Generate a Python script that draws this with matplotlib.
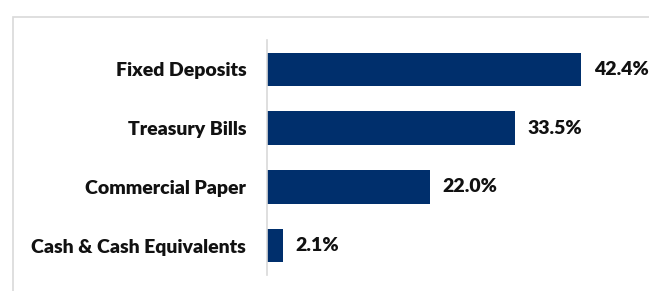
import matplotlib.pyplot as plt
from matplotlib.patches import Rectangle

# data
categories = ['Fixed Deposits', 'Treasury Bills', 'Commercial Paper', 'Cash & Cash Equivalents']
shares = [42.4, 33.5, 22.0, 2.1]
value_labels = ['42.4%', '33.5%', '22.0%', '2.1%']

W, H = 649, 291
bar_color = '#002F6C'
font = ['Lato', 'DejaVu Sans']
weight = 'heavy'

fig = plt.figure(figsize=(W / 100, H / 100), dpi=100)

# light grey chart border (runs off the right and bottom edges)
fig.add_artist(Rectangle((13 / W, -0.1), 1.2, (H - 17) / H + 0.1,
                         transform=fig.transFigure, fill=False,
                         edgecolor='#D9D9D9', linewidth=1.2))

ax = fig.add_axes([267 / W, 1 - 275 / H, (W - 267) / W, 235 / H])

y = list(range(len(categories)))[::-1]
ax.barh(y, shares, height=0.57, color=bar_color)

for yi, v, lab in zip(y, shares, value_labels):
    ax.annotate(lab, (v, yi), xytext=(9, 0), textcoords='offset points',
                va='center', ha='left', fontsize=14, fontweight=weight,
                family=font, color='#111111')

ax.set_yticks(y)
ax.set_yticklabels(categories, fontsize=14, fontweight=weight, family=font,
                   color='#111111')
ax.tick_params(axis='y', length=0, pad=15)
ax.set_xticks([])
ax.set_xlim(0, (W - 267) / 7.41)
ax.set_ylim(-0.5, 3.5)

for s in ['top', 'right', 'bottom']:
    ax.spines[s].set_visible(False)
ax.spines['left'].set_color('#D9D9D9')
ax.spines['left'].set_linewidth(1.2)

fig.savefig('out.png', dpi=100)
